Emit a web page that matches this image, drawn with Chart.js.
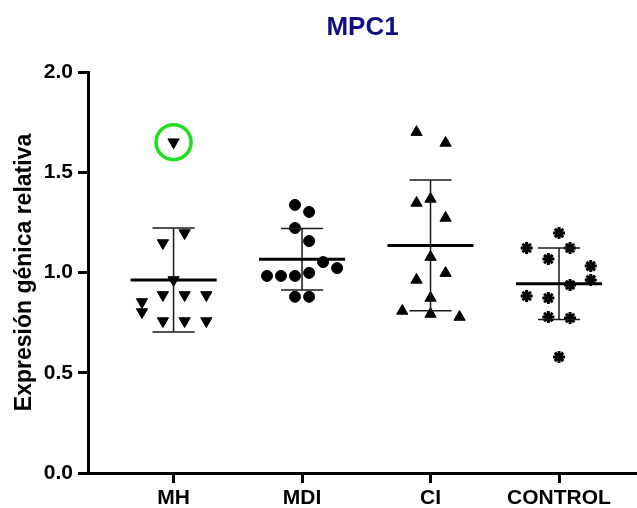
<!DOCTYPE html>
<html>
<head>
<meta charset="utf-8">
<script src="https://cdn.jsdelivr.net/npm/chart.js@4"></script>
<style>
  html, body { margin: 0; padding: 0; background: #fff; }
  #wrap { width: 637px; height: 508px; }
</style>
</head>
<body>
<div id="wrap"><canvas id="chart" width="637" height="508"></canvas></div>
<script>
// Groups and y tick values
const groups = ['MH', 'MDI', 'CI', 'CONTROL'];
const yTicks = [0, 0.5, 1.0, 1.5, 2.0];

// Relative expression per sample
const mhValues      = [1.65, 1.197, 1.147, 0.963, 0.888, 0.888, 0.888, 0.853, 0.803, 0.758, 0.758, 0.758];
const mdiValues     = [1.337, 1.302, 1.222, 1.157, 1.052, 1.022, 0.983, 0.983, 0.983, 0.998, 0.879, 0.879];
const ciValues      = [1.70, 1.646, 1.347, 1.367, 1.272, 1.077, 0.997, 0.963, 0.873, 0.808, 0.793, 0.778];
const controlValues = [1.197, 1.122, 1.122, 1.067, 1.032, 0.963, 0.938, 0.883, 0.873, 0.778, 0.773, 0.579];

// Horizontal scatter of each sample inside its column (category units)
const mhJitter      = [0, 0.086, -0.083, 0, -0.083, 0.086, 0.255, -0.246, -0.246, -0.083, 0.086, 0.255];
const mdiJitter     = [-0.055, 0.055, -0.055, 0.055, 0.164, 0.273, -0.273, -0.164, -0.055, 0.055, -0.055, 0.055];
const ciJitter      = [-0.109, 0.117, -0.109, 0, 0.117, 0, 0.117, -0.109, 0, -0.22, 0, 0.226];
const controlJitter = [0, -0.252, 0.086, -0.083, 0.247, 0.247, 0.086, -0.252, -0.083, -0.083, 0.086, 0];

// Sample flagged with a ring (index into mhValues)
const flaggedIndex = 0;

const FONT = "'Liberation Sans', Arial, Helvetica, sans-serif";
const X_MIN = 0.334, X_MAX = 4.607;
const MEAN_HALF = 0.335, CAP_HALF = 0.164;

const mean = a => a.reduce((s, v) => s + v, 0) / a.length;
const sd = a => { const m = mean(a); return Math.sqrt(a.reduce((s, v) => s + (v - m) ** 2, 0) / (a.length - 1)); };
const pts = (vals, jit, idx) => vals.map((v, i) => ({ x: idx + 1 + jit[i], y: v }));
const meanLine = (vals, idx) => {
  const m = mean(vals), c = idx + 1;
  return [{ x: c - MEAN_HALF, y: m }, { x: c + MEAN_HALF, y: m }];
};
const sdBar = (vals, idx) => {
  const m = mean(vals), s = sd(vals), c = idx + 1;
  return [
    { x: c - CAP_HALF, y: m + s }, { x: c + CAP_HALF, y: m + s }, { x: c, y: null },
    { x: c, y: m + s }, { x: c, y: m - s }, { x: c, y: null },
    { x: c - CAP_HALF, y: m - s }, { x: c + CAP_HALF, y: m - s }
  ];
};

const allValues = [mhValues, mdiValues, ciValues, controlValues];
const allJitter = [mhJitter, mdiJitter, ciJitter, controlJitter];
const styles = [
  { pointStyle: 'triangle', rotation: 180, radius: 6.5, borderWidth: 1 },
  { pointStyle: 'circle', rotation: 0, radius: 5.5, borderWidth: 1 },
  { pointStyle: 'triangle', rotation: 0, radius: 6.5, borderWidth: 1 },
  { pointStyle: 'star', rotation: 0, radius: 6, borderWidth: 3 }
];

const datasets = [];

// Ring around the flagged MH sample
datasets.push({
  data: [{ x: 1 + mhJitter[flaggedIndex], y: mhValues[flaggedIndex] }],
  showLine: false,
  pointStyle: 'circle',
  pointRadius: 17.5,
  pointBorderWidth: 3.5,
  pointBorderColor: '#1fe01f',
  pointBackgroundColor: 'rgba(0,0,0,0)'
});

allValues.forEach((vals, i) => {
  datasets.push({
    data: meanLine(vals, i), showLine: true, borderColor: '#000', borderWidth: 3,
    pointRadius: 0, fill: false
  });
  datasets.push({
    data: sdBar(vals, i), showLine: true, spanGaps: false, borderColor: '#1a1a1a', borderWidth: 1.5,
    pointRadius: 0, fill: false
  });
  datasets.push({
    data: pts(vals, allJitter[i], i), showLine: false,
    pointStyle: styles[i].pointStyle, pointRotation: styles[i].rotation,
    pointRadius: styles[i].radius, pointBorderWidth: styles[i].borderWidth,
    pointBackgroundColor: '#000', pointBorderColor: '#000'
  });
});

const axisGrid = { drawOnChartArea: false, drawTicks: true, tickLength: 10, tickWidth: 3, tickColor: '#000' };
const axisBorder = { display: true, width: 3, color: '#000' };

new Chart(document.getElementById('chart'), {
  type: 'scatter',
  data: { datasets },
  options: {
    responsive: false,
    animation: false,
    events: [],
    layout: { padding: 0, autoPadding: false },
    plugins: {
      legend: { display: false },
      tooltip: { enabled: false },
      title: {
        display: true,
        text: 'MPC1',
        fullSize: false,
        color: '#101080',
        font: { family: FONT, size: 26, weight: 'bold' },
        padding: { top: 12, bottom: 28.8 }
      }
    },
    scales: {
      x: {
        type: 'linear',
        min: X_MIN,
        max: X_MAX,
        afterBuildTicks: s => { s.ticks = groups.map((g, i) => ({ value: i + 1 })); },
        afterFit: s => { s.height = 35; s.paddingLeft = 0; s.paddingRight = 0; },
        grid: axisGrid,
        border: axisBorder,
        ticks: {
          autoSkip: false, maxRotation: 0, padding: 3, color: '#000',
          font: { family: FONT, size: 21, weight: 'bold' },
          callback: v => groups[Math.round(v) - 1] ?? ''
        }
      },
      y: {
        min: 0,
        max: 2,
        afterBuildTicks: s => { s.ticks = yTicks.map(v => ({ value: v })); },
        afterFit: s => { s.width = 88; },
        grid: axisGrid,
        border: axisBorder,
        ticks: {
          padding: 5, color: '#000',
          font: { family: FONT, size: 21, weight: 'bold' },
          callback: v => Number(v).toFixed(1)
        },
        title: {
          display: true,
          text: 'Expresión génica relativa',
          color: '#000',
          font: { family: FONT, size: 23, weight: 'bold' },
          padding: { top: 11, bottom: 0 }
        }
      }
    }
  }
});
</script>
</body>
</html>
